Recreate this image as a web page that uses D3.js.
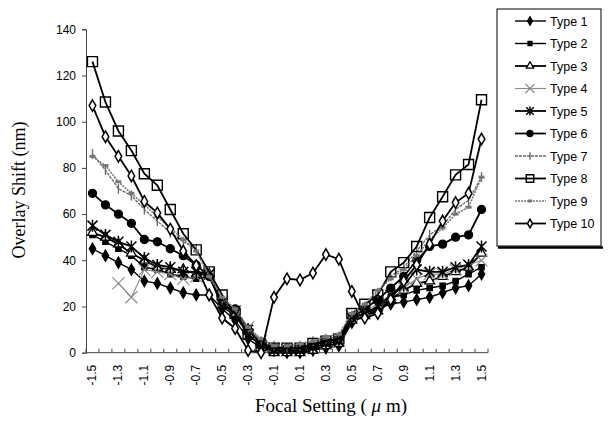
<!DOCTYPE html>
<html>
<head>
<meta charset="utf-8">
<script src="https://cdn.jsdelivr.net/npm/d3@7"></script>
<style>
  body { margin: 0; background: #fff; }
  svg { display: block; }
  .tick text { font-family: "Liberation Sans", Arial, sans-serif; font-size: 12px; fill: #000; }
</style>
</head>
<body>
<div id="chart"></div>
<script>
const focal = ["-1.5","-1.4","-1.3","-1.2","-1.1","-1.0","-0.9","-0.8","-0.7","-0.6","-0.5",
  "-0.4","-0.3","-0.2","-0.1","0.0","0.1","0.2","0.3","0.4","0.5","0.6","0.7","0.8","0.9","1.0",
  "1.1","1.2","1.3","1.4","1.5"];
const xTickLabels = ["-1.5","-1.3","-1.1","-0.9","-0.7","-0.5","-0.3","-0.1","0.1","0.3","0.5",
  "0.7","0.9","1.1","1.3","1.5"];
const yTicks = [0, 20, 40, 60, 80, 100, 120, 140];

const type1 = [45,42,39,36,31,30,28,26,25,25,19,14,6,2,1,0,0,1,2,3,13,16,19,21,22,23,24,26,28,29,34];
const type2 = [51,48,45,42,37,36,34,33,32,33,20,16,8,3,1,1,0,1,3,4,15,17,19,24,25,27,28,29,31,34,37];
const type3 = [52,50,47,43,40,37,36,36,34,34,21,17,10,4,0,0,0,1,3,4,14,16,18,23,27,30,31,33,35,37,43];
const type4 = [null,null,30,24,36,35,34,32,33,34,22,18,11,5,2,1,1,2,4,5,16,18,21,25,28,32,34,34,36,38,40];
const type5 = [55,51,48,46,41,38,37,35,35,34,21,18,10,4,1,1,1,2,4,5,15,17,20,25,29,36,35,35,37,38,46];
const type6 = [69,64,60,56,49,48,45,42,38,33,22,19,10,4,2,2,2,3,5,6,15,19,23,28,33,40,46,47,50,51,62];
const type7 = [86,79,71,68,62,57,52,48,45,34,23,18,10,5,3,2,3,5,6,7,16,20,26,33,37,44,51,55,62,66,76];
const type8 = [126,108.5,96,87.5,77.5,72.5,62,51.5,44.5,35,25,17,8,3,2,2,2,4,5,6,17,21,25,35,39,46,58.5,67.5,77,81.5,109.5];
const type9 = [85,81,74,69,64,59,54,49,44,33,24,19,11,6,3,3,4,5,7,8,17,21,27,32,36,42,49,54,60,63,76];
const type10 = [107,93.5,85,76.5,65.5,60.5,53.5,44,37.7,25,15,10.5,1,0,24,32,31.5,34.5,42.5,40.5,26.5,15,17,23,31,38,47,57,65,69,92.5];

const seriesNames = ["Type 1","Type 2","Type 3","Type 4","Type 5","Type 6","Type 7","Type 8","Type 9","Type 10"];
const seriesValues = [type1,type2,type3,type4,type5,type6,type7,type8,type9,type10];

// look of each series: stroke colour, width, dash, marker
const styles = [
  { color: "#000", width: 1.4, dash: null, marker: "diamondFill" },
  { color: "#000", width: 1.4, dash: null, marker: "squareFill" },
  { color: "#000", width: 1.8, dash: null, marker: "triangleOpen" },
  { color: "#888", width: 1.1, dash: null, marker: "x" },
  { color: "#000", width: 1.8, dash: null, marker: "asterisk" },
  { color: "#000", width: 1.8, dash: null, marker: "circleFill" },
  { color: "#666", width: 1.3, dash: "3,1", marker: "plus" },
  { color: "#000", width: 1.8, dash: null, marker: "squareOpen" },
  { color: "#777", width: 1.6, dash: "2,1", marker: "bar" },
  { color: "#000", width: 1.8, dash: null, marker: "diamondOpen" }
];

const W = 609, H = 430;
const svg = d3.select("#chart").append("svg")
  .attr("width", W).attr("height", H);

const x = d3.scaleBand().domain(focal).range([86, 488]).padding(0);
const y = d3.scaleLinear().domain([0, 140]).range([352.7, 29.3]);
const cx = d => x(d) + x.bandwidth() / 2;

// y axis
const yAxis = svg.append("g")
  .attr("transform", "translate(86,0)")
  .call(d3.axisLeft(y).tickValues(yTicks).tickSize(4).tickPadding(6));
yAxis.select(".domain").attr("stroke", "#444");
yAxis.selectAll(".tick line").attr("stroke", "#444");

// x axis: ticks on category boundaries, pointing up
const xAxis = svg.append("g").attr("transform", "translate(0,352.7)");
xAxis.append("line").attr("x1", 86).attr("x2", 488).attr("stroke", "#444");
xAxis.selectAll("line.tk").data(focal.concat(["end"])).enter().append("line")
  .attr("class", "tk")
  .attr("x1", (d, i) => i < focal.length ? x(d) : 488)
  .attr("x2", (d, i) => i < focal.length ? x(d) : 488)
  .attr("y1", 0).attr("y2", -4).attr("stroke", "#444");
xAxis.selectAll("text").data(xTickLabels).enter().append("text")
  .attr("transform", d => `translate(${cx(d) + 4},${12}) rotate(-90)`)
  .attr("text-anchor", "end")
  .attr("font-family", "Liberation Sans, Arial, sans-serif")
  .attr("font-size", 12)
  .text(d => d);

// axis titles
svg.append("text")
  .attr("transform", "translate(25,190) rotate(-90)")
  .attr("text-anchor", "middle")
  .attr("font-family", "Liberation Serif, Times New Roman, serif")
  .attr("font-size", 18)
  .text("Overlay Shift (nm)");
const xt = svg.append("text")
  .attr("x", 331).attr("y", 412)
  .attr("text-anchor", "middle")
  .attr("font-family", "Liberation Serif, Times New Roman, serif")
  .attr("font-size", 19);
xt.append("tspan").text("Focal Setting ( ");
xt.append("tspan").attr("font-style", "italic").text("\u03bc");
xt.append("tspan").text(" m)");

function drawMarker(g, kind, color, k) {
  const sym = (type, size, fill) => g.append("path")
    .attr("d", d3.symbol().type(type).size(size * k * k)())
    .attr("fill", fill).attr("stroke", color).attr("stroke-width", 1.3);
  switch (kind) {
    case "diamondFill": sym(d3.symbolDiamond, 36, color); break;
    case "squareFill": sym(d3.symbolSquare, 28, color); break;
    case "triangleOpen": sym(d3.symbolTriangle, 42, "#fff"); break;
    case "circleFill": sym(d3.symbolCircle, 50, color); break;
    case "squareOpen": sym(d3.symbolSquare, 100, "none").attr("stroke-width", 1.4); break;
    case "diamondOpen": sym(d3.symbolDiamond, 38, "#fff").attr("stroke-width", 1.5); break;
    case "x":
      g.append("path").attr("d", `M${-6*k},${-6*k}L${6*k},${6*k}M${-6*k},${6*k}L${6*k},${-6*k}`)
        .attr("stroke", color).attr("stroke-width", 1.1);
      break;
    case "asterisk":
      g.append("path").attr("d", `M${-5*k},${-5*k}L${5*k},${5*k}M${-5*k},${5*k}L${5*k},${-5*k}M0,${-6*k}L0,${6*k}`)
        .attr("stroke", color).attr("stroke-width", 1.5);
      break;
    case "plus":
      g.append("path").attr("d", `M0,${-5*k}L0,${5*k}`)
        .attr("stroke", color).attr("stroke-width", 1.3);
      break;
    case "bar":
      g.append("rect").attr("x", -3 * k).attr("y", -1.5).attr("width", 6 * k).attr("height", 3)
        .attr("fill", color);
      break;
  }
}

const line = d3.line()
  .defined(d => d.v !== null)
  .x(d => cx(d.c))
  .y(d => y(d.v));

seriesValues.forEach((vals, s) => {
  const st = styles[s];
  const pts = vals.map((v, i) => ({ c: focal[i], v: v }));
  const g = svg.append("g");
  g.append("path")
    .datum(pts)
    .attr("fill", "none")
    .attr("stroke", st.color)
    .attr("stroke-width", st.width)
    .attr("stroke-dasharray", st.dash)
    .attr("d", line);
  pts.filter(d => d.v !== null).forEach(d => {
    const m = g.append("g").attr("transform", `translate(${cx(d.c)},${y(d.v)})`);
    drawMarker(m, st.marker, st.color, 1);
  });
});

// legend
const lg = svg.append("g");
lg.append("rect").attr("x", 497).attr("y", 9).attr("width", 104).attr("height", 237)
  .attr("fill", "#fff").attr("stroke", "#000").attr("stroke-width", 1);
lg.append("line").attr("x1", 498).attr("x2", 603).attr("y1", 247.5).attr("y2", 247.5)
  .attr("stroke", "#000").attr("stroke-width", 2.5);
seriesNames.forEach((name, s) => {
  const st = styles[s];
  const ly = 21 + s * 22.5;
  lg.append("line").attr("x1", 515).attr("x2", 546).attr("y1", ly).attr("y2", ly)
    .attr("stroke", st.color).attr("stroke-width", st.width)
    .attr("stroke-dasharray", st.dash);
  const m = lg.append("g").attr("transform", `translate(530,${ly})`);
  drawMarker(m, st.marker, st.color, 0.75);
  lg.append("text").attr("x", 550).attr("y", ly + 4.5)
    .attr("font-family", "Liberation Sans, Arial, sans-serif")
    .attr("font-size", 12.5)
    .text(name);
});
</script>
</body>
</html>
